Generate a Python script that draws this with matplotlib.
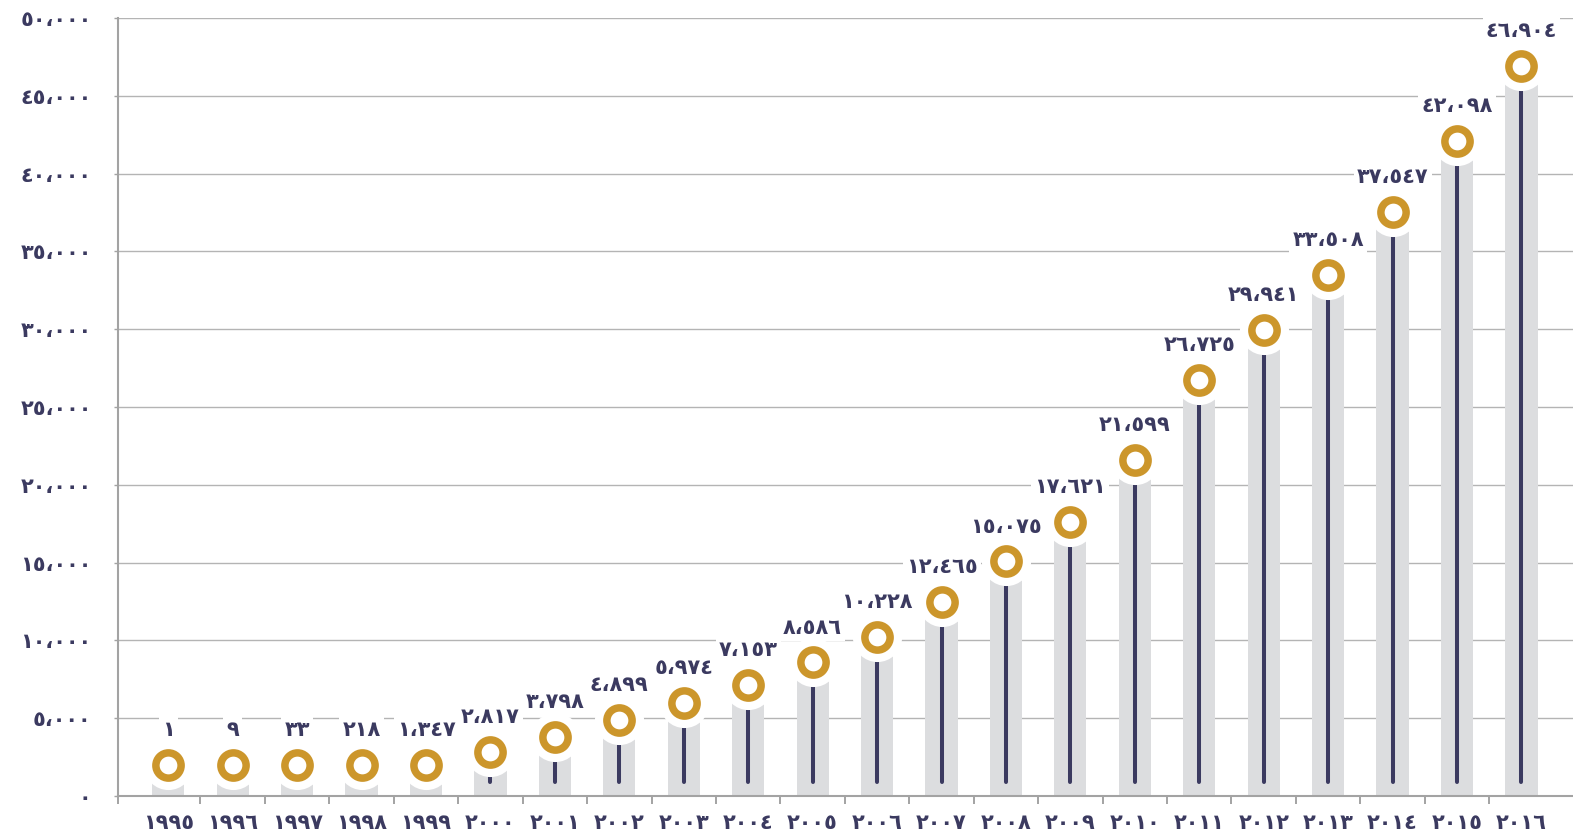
import numpy as np
import matplotlib
matplotlib.use('Agg')
import matplotlib.pyplot as plt

# Data ~~~~~~~~~~~~~~~~~~~~~~~~~~~~~~~~~~~~~~~~~~~~~~~~~~~~~~~~~~~~~~~~~~~~~~~~~~~~
years = list(range(1995, 2017))
values = [1, 9, 33, 218, 1347, 2817, 3798, 4899, 5974, 7153, 8586, 10228,
          12465, 15075, 17621, 21599, 26725, 29941, 33508, 37547, 42098, 46904]
yticks = [0, 5000, 10000, 15000, 20000, 25000, 30000, 35000, 40000, 45000, 50000]

# Style ~~~~~~~~~~~~~~~~~~~~~~~~~~~~~~~~~~~~~~~~~~~~~~~~~~~~~~~~~~~~~~~~~~~~~~~~~~~
navy = '#3b3a60'
gold = '#cc962b'
bar_grey = '#dcdddf'
grid_grey = '#b4b4b4'
spine_grey = '#a3a3a3'
min_marker = 2000   # small values get lifted so the rings sit above the axis
stem_base = 900     # stems stop a little above the axis

plt.rcParams['font.family'] = ['DejaVu Sans']
plt.rcParams['font.weight'] = 'bold'

ar_digits = str.maketrans('0123456789,', '٠١٢٣٤٥٦٧٨٩،')


def to_ar(n):
    return format(n, ',').translate(ar_digits)


x = np.arange(len(years))
vals = np.array(values)
marker_y = np.maximum(vals, min_marker)

fig = plt.figure(figsize=(15.73, 8.30), dpi=100)
ax = fig.add_axes([118 / 1573, 34 / 830, 1 - 118 / 1573, (796 - 18) / 830])

# bars, stems, halo + ring
ax.bar(x, marker_y, width=0.5, color=bar_grey, zorder=2)
ax.vlines(x, stem_base, marker_y, color=navy, linewidth=2.9, zorder=3,
          capstyle='round')
ax.scatter(x, marker_y, s=1250, color='white', zorder=4, linewidths=0)
ax.scatter(x, marker_y, s=330, facecolor='white', edgecolor=gold,
           linewidths=5.4, zorder=5)

# value labels
for xi, yi, v in zip(x, marker_y, values):
    ax.annotate(to_ar(v), (xi, yi), xytext=(0, 25), textcoords='offset points',
                ha='center', va='center', fontsize=15, color=navy,
                fontweight='bold', zorder=6,
                bbox=dict(boxstyle='square,pad=0.15', fc='white', ec='none'))

# axes
ax.set_xlim(-0.78, 21.8)
ax.set_ylim(0, 50000)
ax.set_yticks(yticks)
ax.set_yticklabels([to_ar(t) for t in yticks], fontsize=15, color=navy,
                   fontweight='bold')
ax.tick_params(axis='y', length=3, width=1, color=spine_grey, pad=16)
ax.grid(axis='y', color=grid_grey, linewidth=1.0, zorder=0)
ax.set_axisbelow(True)

ax.set_xticks([-0.78] + list(np.arange(0.5, 21, 1)))
ax.set_xticklabels([])
ax.tick_params(axis='x', which='major', length=6, width=1.4, color=spine_grey)
ax.set_xticks(x, minor=True)
ax.set_xticklabels([to_ar(y).replace('،', '') for y in years], minor=True,
                   fontsize=15, color=navy, fontweight='bold')
ax.tick_params(axis='x', which='minor', length=0, pad=12)

for s in ['top', 'right']:
    ax.spines[s].set_visible(False)
for s in ['left', 'bottom']:
    ax.spines[s].set_color(spine_grey)
    ax.spines[s].set_linewidth(1.5)
    ax.spines[s].set_zorder(7)

fig.savefig('out.png', dpi=100, facecolor='white')
